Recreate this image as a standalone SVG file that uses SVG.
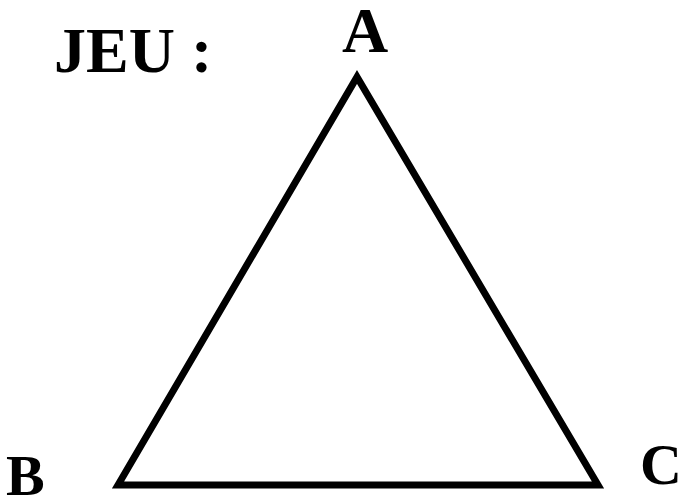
<svg xmlns="http://www.w3.org/2000/svg" width="683" height="495" viewBox="0 0 683 495">
<style>
.t{font-family:"Liberation Serif","Times New Roman",serif;font-weight:bold;fill:#000}
.tri{fill:none;stroke:#000;stroke-width:7;stroke-linejoin:miter}
</style>
<rect width="683" height="495" fill="#fff"/>
<text class="t" x="54" y="72" font-size="64">JEU :</text>
<g id="triangle">
<polygon class="tri" points="118,485 357,77 598,485"/>
</g>
<g id="A"><text class="t" x="365" y="52" font-size="64" text-anchor="middle">A</text></g>
<g id="B"><text class="t" x="6" y="495" font-size="58">B</text></g>
<g id="C"><text class="t" x="640" y="484" font-size="58">C</text></g>
</svg>
